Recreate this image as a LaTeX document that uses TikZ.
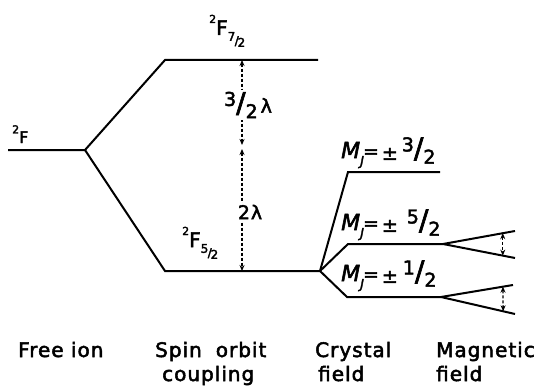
\documentclass[tikz,border=0pt]{standalone}
\usepackage{fontspec}
\setmainfont{DejaVu Sans}[LetterSpace=5,FakeBold=2.5]
\usetikzlibrary{calc,arrows.meta}
\newcommand\lsup[1]{\raisebox{0.6em}{\fontsize{11}{11}\selectfont #1}}
\newcommand\lsub[2]{\raisebox{-0.5em}{\fontsize{12}{12}\selectfont\raisebox{0.35em}{#1}\kern-0.05em/\kern-0.1em\raisebox{-0.15em}{#2}}}
\newcommand\bfrac[2]{\raisebox{0.35em}{#1}{\fontsize{28}{28}\selectfont /}\raisebox{-0.3em}{#2}}
\newcommand\jsub{\raisebox{-0.4em}{\fontsize{13}{13}\selectfont\itshape J}}
\newcommand\bigM{{\fontsize{22}{22}\selectfont\itshape M}}
\begin{document}
\begin{tikzpicture}[x=1pt,y=-1pt,
  lvl/.style={line width=2pt},
  gap/.style={dash pattern=on 3pt off 2pt, line width=1.3pt, {Stealth[length=6pt,width=5pt]}-{Stealth[length=6pt,width=5pt]}},
  lab/.style={inner sep=0pt, font=\fontsize{19}{24}\selectfont},
  captxt/.style={inner sep=0pt, anchor=base west, align=left, font=\fontsize{20}{24}\selectfont}]
\useasboundingbox (0,0) rectangle (537,385);
% coordinates of levels
\coordinate (a1) at (8,150);   \coordinate (a2) at (85,150);
\coordinate (b1) at (165,60);  \coordinate (b2) at (318,60);
\coordinate (c1) at (165,271); \coordinate (c2) at (320,271);
\coordinate (d1) at (348,172); \coordinate (d2) at (440,172);
\coordinate (e1) at (348,244); \coordinate (e2) at (443,244);
\coordinate (e3) at (515,231); \coordinate (e4) at (515,258);
\coordinate (f1) at (347,297); \coordinate (f2) at (441,297);
\coordinate (f3) at (513,285); \coordinate (f4) at (515,314);
\coordinate (t) at (242,60); \coordinate (m) at (242,147); \coordinate (u) at (242,271);
% levels
\draw[lvl] (a1) -- (a2) -- (b1) -- (b2);
\draw[lvl] (a2) -- (c1) -- (c2);
\draw[lvl] (c2) -- (d1) -- (d2);
\draw[lvl] (c2) -- (e1) -- (e2) -- (e3);
\draw[lvl] (e2) -- (e4);
\draw[lvl] (c2) -- (f1) -- (f2) -- (f3);
\draw[lvl] (f2) -- (f4);
% spin-orbit gaps
\draw[gap] (t) -- ($(m)+(0,-2)$);
\draw[gap] ($(m)+(0,2)$) -- (u);
\node[lab, fill=white, inner sep=1.5pt] (l32) at (248,105) {\bfrac{3}{2}\kern3pt λ};
\node[lab, fill=white, inner sep=1.5pt] (l2) at (250,212) {2λ};
% magnetic gaps
\draw[gap] ($(e2)!0.83!(e3)$) -- ($(e2)!0.83!(e4)$);
\draw[gap] ($(f2)!0.86!(f3)$) -- ($(f2)!0.84!(f4)$);
% level labels
\node[lab, anchor=base west, font=\fontsize{16}{16}\selectfont] (nF) at (12,143) {\lsup{2}F};
\node[lab, anchor=base west, font=\fontsize{20}{24}\selectfont] (nF7) at (209,35) {\lsup{2}F\lsub{7}{2}};
\node[lab, anchor=base west, font=\fontsize{20}{24}\selectfont] (nF5) at (182,247) {\lsup{2}F\lsub{5}{2}};
\node[lab, anchor=base west] (nM3) at (341,158) {\bigM\jsub\kern-1pt=\kern3pt\raisebox{-0.1em}{±}\kern4pt\bfrac{3}{2}};
\node[lab, anchor=base west] (nM5) at (341,230) {\bigM\jsub\kern-1pt=\kern3pt\raisebox{-0.1em}{±}\kern9pt\bfrac{5}{2}};
\node[lab, anchor=base west] (nM1) at (341,281) {\bigM\jsub\kern-1pt=\kern3pt\raisebox{-0.1em}{±}\kern5pt\bfrac{1}{2}};
% captions
\node[captxt] (c1t) at (18,357) {Free ion};
\node[captxt] (c2t) at (155,381) {Spin\hspace{14pt}orbit\\\hspace{7pt}coupling};
\node[captxt] (c3t) at (315,381) {Crystal\\\hspace{3pt}field};
\node[captxt] (c4t) at (436,381) {Magnetic\\field};
\end{tikzpicture}
\end{document}
